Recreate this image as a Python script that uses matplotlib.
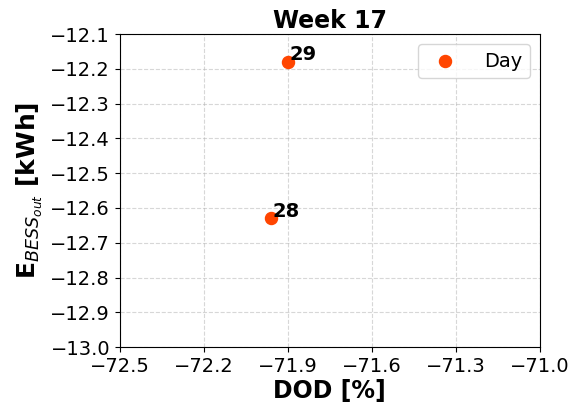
import matplotlib.pyplot as plt

# daily values for week 17
days = [28, 29]
dod = [-71.96, -71.90]
e_bess_out = [-12.63, -12.18]

fig = plt.figure(figsize=(5.76, 4.05), dpi=100)
ax = fig.add_axes([0.208, 0.143, 0.729, 0.773])

ax.scatter(dod, e_bess_out, color="orangered", s=75, label="Day", zorder=3)
for d, x, y in zip(days, dod, e_bess_out):
    ax.annotate(str(d), xy=(x, y), xytext=(1, 1), textcoords="offset points",
                fontsize=14, fontweight="bold")

ax.set_xlim(-72.5, -71.0)
ax.set_ylim(-13.0, -12.1)
ax.set_xticks([-72.5, -72.2, -71.9, -71.6, -71.3, -71.0])
ax.set_yticks([-13.0, -12.9, -12.8, -12.7, -12.6, -12.5, -12.4, -12.3, -12.2, -12.1])
ax.tick_params(labelsize=14)
ax.grid(True, linestyle="--", alpha=0.5)

ax.set_title("Week 17", fontsize=17, fontweight="bold", pad=4)
ax.set_xlabel("DOD [%]", fontsize=17, fontweight="bold", labelpad=2)
ax.set_ylabel(r"E$_{BESS_{out}}$ [kWh]", fontsize=18, fontweight="bold")
ax.legend(loc="upper right", fontsize=14, handletextpad=1.0)

fig.savefig("out.png")
